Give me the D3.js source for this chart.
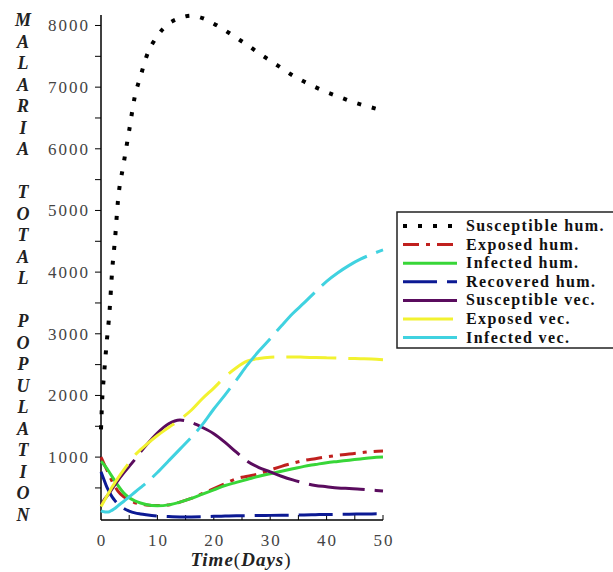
<!DOCTYPE html>
<html>
<head>
<meta charset="utf-8">
<script src="https://cdn.jsdelivr.net/npm/d3@7"></script>
<style>
  body { margin: 0; background: #fff; }
  svg { display: block; }
</style>
</head>
<body>
<div class="canvas"></div>
<script>
const dims = { width: 613, height: 572 };

// time points (days) shared by all series
const days = [0, 0.25, 0.5, 1, 1.5, 2, 2.5, 3, 4, 5, 6, 7, 8, 10, 12, 14, 16, 18, 20,
  22, 24, 26, 28, 30, 32, 34, 36, 38, 40, 42, 44, 46, 48, 50];

const susHum = [1450, 2000, 2300, 2850, 3350, 4050, 4550, 5150, 5750, 6300, 6850, 7170, 7480,
  7830, 8030, 8120, 8160, 8120, 8030, 7920, 7800, 7680, 7550, 7430, 7310, 7190, 7090, 7000,
  6920, 6850, 6780, 6720, 6670, 6620];
const expHum = [1000, 950, 900, 800, 700, 600, 520, 450, 360, 300, 260, 240, 225, 215, 225,
  270, 330, 410, 490, 570, 650, 690, 730, 790, 850, 900, 945, 975, 1005, 1030, 1050, 1070,
  1090, 1100];
const infHum = [930, 910, 880, 820, 750, 680, 610, 540, 420, 340, 290, 255, 230, 210, 225,
  270, 330, 400, 470, 540, 590, 640, 690, 730, 770, 810, 850, 880, 910, 930, 950, 970, 990, 1000];
const recHum = [760, 700, 640, 520, 430, 350, 290, 240, 170, 125, 95, 78, 65, 45, 35, 30, 30,
  33, 40, 44, 48, 50, 53, 55, 57, 59, 62, 66, 70, 72, 75, 77, 79, 80];
const susVec = [230, 260, 300, 360, 420, 490, 555, 620, 740, 850, 960, 1080, 1190, 1390, 1540,
  1600, 1560, 1480, 1380, 1240, 1080, 930, 830, 760, 690, 630, 580, 540, 520, 500, 490, 480,
  465, 450];
const expVec = [200, 240, 280, 360, 440, 520, 590, 660, 790, 910, 1030, 1120, 1200, 1350, 1480,
  1610, 1760, 1950, 2120, 2300, 2450, 2560, 2600, 2620, 2625, 2625, 2620, 2615, 2610, 2605,
  2600, 2595, 2590, 2580];
const infVec = [130, 120, 115, 110, 115, 140, 170, 210, 280, 355, 430, 505, 580, 750, 940, 1130,
  1320, 1530, 1780, 2010, 2250, 2500, 2720, 2920, 3130, 3330, 3500, 3680, 3850, 3990, 4110,
  4210, 4290, 4360];

const seriesNames = ['Susceptible hum.', 'Exposed hum.', 'Infected hum.', 'Recovered hum.',
  'Susceptible vec.', 'Exposed vec.', 'Infected vec.'];
const seriesValues = [susHum, expHum, infHum, recHum, susVec, expVec, infVec];

const xTicks = [0, 10, 20, 30, 40, 50];
const xMinor = [5, 15, 25, 35, 45];
const yTicks = [1000, 2000, 3000, 4000, 5000, 6000, 7000, 8000];
const yMinor = [500, 1500, 2500, 3500, 4500, 5500, 6500, 7500];

const yTitle = 'MALARIA TOTAL POPULATION';

// line styles, same order as the series
const styles = [
  { colour: '#000000', width: 4, dash: '4,11' },
  { colour: '#c0201e', width: 3, dash: '16,7,4,7' },
  { colour: '#38d638', width: 3, dash: null },
  { colour: '#0c1a94', width: 3, dash: '34,10' },
  { colour: '#5a0c5e', width: 3, dash: '56,10' },
  { colour: '#f2f230', width: 3, dash: '50,12' },
  { colour: '#40d2e0', width: 3, dash: '54,10' }
];

const svg = d3.select('.canvas')
  .append('svg')
  .attr('width', dims.width)
  .attr('height', dims.height);

const x = d3.scaleLinear().domain([0, 50]).range([101, 383]);
const y = d3.scaleLinear().domain([-20, 8170]).range([520, 15]);

const serif = '"Liberation Serif", "Times New Roman", serif';

// axes
const axisG = svg.append('g').attr('stroke', '#000');
axisG.append('line')
  .attr('x1', x(0)).attr('x2', x(0))
  .attr('y1', y.range()[1]).attr('y2', y.range()[0])
  .attr('stroke-width', 1.5);
axisG.append('line')
  .attr('x1', x(0)).attr('x2', x(50))
  .attr('y1', y.range()[0]).attr('y2', y.range()[0])
  .attr('stroke-width', 1.5);

axisG.selectAll('.ytick')
  .data(yTicks.concat(yMinor))
  .enter().append('line')
  .attr('x1', x(0) - 6).attr('x2', x(0))
  .attr('y1', d => y(d)).attr('y2', d => y(d))
  .attr('stroke-width', 1);

axisG.selectAll('.xtick')
  .data(xTicks.slice(1).concat(xMinor))
  .enter().append('line')
  .attr('x1', d => x(d)).attr('x2', d => x(d))
  .attr('y1', y.range()[0]).attr('y2', y.range()[0] - 5)
  .attr('stroke-width', 1);

svg.selectAll('.ylabel')
  .data(yTicks)
  .enter().append('text')
  .attr('x', 90)
  .attr('y', d => y(d) + 6)
  .attr('text-anchor', 'end')
  .attr('font-family', serif)
  .attr('font-size', 17)
  .attr('letter-spacing', 2)
  .attr('fill', '#444')
  .text(d => d);

svg.selectAll('.xlabel')
  .data(xTicks)
  .enter().append('text')
  .attr('x', d => x(d) + 1)
  .attr('y', 546)
  .attr('text-anchor', 'middle')
  .attr('font-family', serif)
  .attr('font-size', 17)
  .attr('letter-spacing', 2)
  .attr('fill', '#444')
  .text(d => d);

// axis titles
svg.selectAll('.ytitle')
  .data(yTitle.split(''))
  .enter().append('text')
  .attr('x', 23)
  .attr('y', (d, i) => 26 + i * 21.5)
  .attr('text-anchor', 'middle')
  .attr('font-family', serif)
  .attr('font-size', 18)
  .attr('font-weight', 'bold')
  .attr('font-style', 'italic')
  .attr('fill', '#222')
  .text(d => d);

const xt = svg.append('text')
  .attr('x', 241)
  .attr('y', 566)
  .attr('text-anchor', 'middle')
  .attr('font-family', serif)
  .attr('font-size', 19)
  .attr('letter-spacing', 1)
  .attr('fill', '#222');
xt.append('tspan').attr('font-weight', 'bold').attr('font-style', 'italic').text('Time');
xt.append('tspan').text('(');
xt.append('tspan').attr('font-weight', 'bold').attr('font-style', 'italic').text('Days');
xt.append('tspan').text(')');

// curves
const line = d3.line()
  .x(d => x(d[0]))
  .y(d => y(d[1]))
  .curve(d3.curveMonotoneX);

svg.append('g').selectAll('path')
  .data(seriesValues)
  .enter().append('path')
  .attr('fill', 'none')
  .attr('stroke', (d, i) => styles[i].colour)
  .attr('stroke-width', (d, i) => styles[i].width)
  .attr('stroke-dasharray', (d, i) => styles[i].dash)
  .attr('d', d => line(days.map((t, j) => [t, d[j]])));

// legend
const legend = svg.append('g').attr('transform', 'translate(397, 212)');
legend.append('rect')
  .attr('x', 0).attr('y', 0)
  .attr('width', 240).attr('height', 136)
  .attr('fill', '#fff')
  .attr('stroke', '#222')
  .attr('stroke-width', 1.5);

const items = legend.selectAll('.item')
  .data(seriesNames)
  .enter().append('g')
  .attr('transform', (d, i) => `translate(0, ${14 + i * 18.6})`);

items.append('line')
  .attr('x1', 6).attr('x2', 60)
  .attr('y1', 0).attr('y2', 0)
  .attr('stroke', (d, i) => styles[i].colour)
  .attr('stroke-width', (d, i) => styles[i].width)
  .attr('stroke-dasharray', (d, i) => styles[i].dash);

items.append('text')
  .attr('x', 69)
  .attr('y', 5)
  .attr('font-family', serif)
  .attr('font-size', 16)
  .attr('font-weight', 'bold')
  .attr('letter-spacing', 1.4)
  .attr('fill', '#111')
  .text(d => d);
</script>
</body>
</html>
